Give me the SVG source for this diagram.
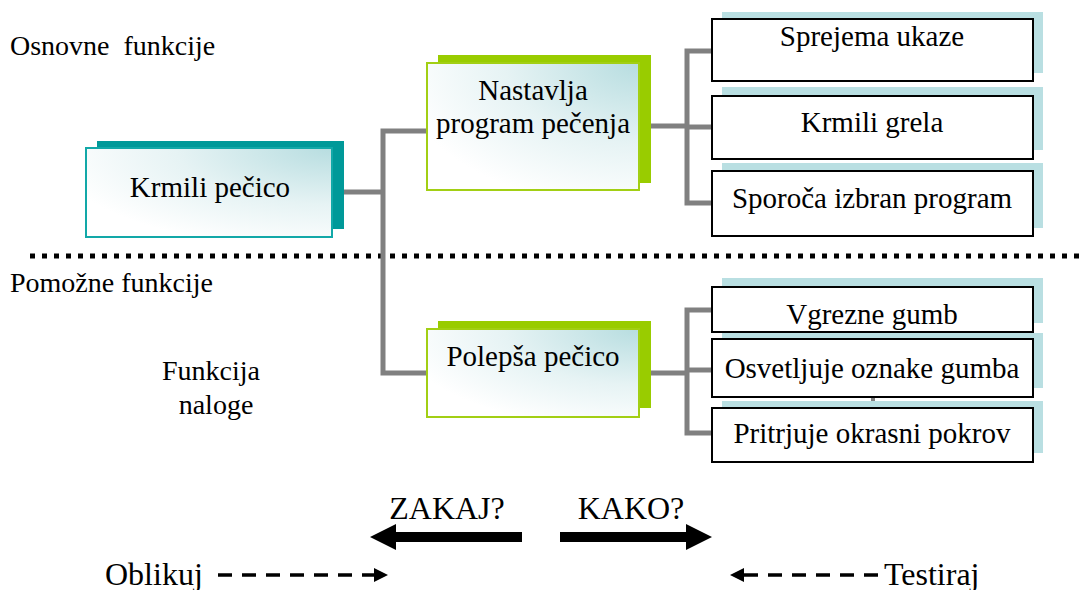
<svg xmlns="http://www.w3.org/2000/svg" width="1079" height="590" viewBox="0 0 1079 590">
  <defs>
    <radialGradient id="softFill" cx="1" cy="0" r="1.15">
      <stop offset="0" stop-color="#b7dde0"/>
      <stop offset="0.55" stop-color="#e6f3f4"/>
      <stop offset="1" stop-color="#ffffff"/>
    </radialGradient>
  </defs>
  <style>
    text { font-family: "Liberation Serif", Tinos, "Noto Serif", "DejaVu Serif", "Times New Roman", Times, serif; fill: #000; }
    .lbl { font-size: 28px; }
    .box { font-size: 29px; text-anchor: middle; }
    .big { font-size: 32px; }
    .conn { fill: none; stroke: #808080; stroke-width: 5; }
    .shadowTeal { fill: #009999; }
    .shadowGreen { fill: #99cc00; }
    .shadowBlue { fill: #b9dfe2; }
    .frontTeal { fill: url(#softFill); stroke: #12a8a8; stroke-width: 2; }
    .frontGreen { fill: url(#softFill); stroke: #a2cf14; stroke-width: 2; }
    .frontPlain { fill: #ffffff; stroke: #000; stroke-width: 2; }
    .dash { stroke: #000; stroke-width: 3.5; stroke-dasharray: 14 10; }
  </style>
  <rect width="1079" height="590" fill="#ffffff"/>

  <!-- section labels -->
  <g id="labels">
    <text class="lbl" x="10" y="55" xml:space="preserve">Osnovne  funkcije</text>
    <text class="lbl" x="10" y="292">Pomožne funkcije</text>
    <text class="lbl" x="211" y="380" text-anchor="middle">Funkcija</text>
    <text class="lbl" x="216" y="414" text-anchor="middle">naloge</text>
  </g>

  <!-- divider between main and auxiliary functions -->
  <line x1="30" y1="256" x2="1079" y2="256" stroke="#000" stroke-width="5" stroke-dasharray="5 7"/>

  <!-- connectors -->
  <g id="connectors">
    <path class="conn" d="M344 192 H383"/>
    <path class="conn" d="M427 131 H383 V373 H427"/>
    <path class="conn" d="M651 126 H687"/>
    <path class="conn" d="M712 51 H687 V203 H712"/>
    <path class="conn" d="M687 127 H712"/>
    <path class="conn" d="M651 373 H687"/>
    <path class="conn" d="M712 310 H687 V433 H712"/>
    <path class="conn" d="M687 370 H712"/>
    <rect x="871" y="396" width="4" height="5" fill="#808080"/>
  </g>

  <!-- root function -->
  <g id="krmili-pecico">
    <rect class="shadowTeal" x="97" y="141" width="247" height="88"/>
    <rect class="frontTeal" x="86" y="148" width="246" height="89"/>
    <text class="box" x="210" y="197">Krmili pečico</text>
  </g>

  <!-- main sub-function -->
  <g id="nastavlja-program">
    <rect class="shadowGreen" x="438" y="55" width="213" height="128"/>
    <rect class="frontGreen" x="427" y="63" width="212" height="127"/>
    <text class="box" x="533" y="100">Nastavlja</text>
    <text class="box" x="533" y="133">program pečenja</text>
  </g>

  <!-- auxiliary sub-function -->
  <g id="polepsa-pecico">
    <rect class="shadowGreen" x="438" y="321" width="213" height="87"/>
    <rect class="frontGreen" x="427" y="329" width="212" height="88"/>
    <text class="box" x="533" y="366">Polepša pečico</text>
  </g>

  <!-- leaf functions -->
  <g id="sprejema-ukaze">
    <rect class="shadowBlue" x="722" y="12" width="321" height="61"/>
    <rect class="frontPlain" x="712" y="19" width="321" height="62"/>
    <text class="box" x="872" y="46">Sprejema ukaze</text>
  </g>
  <g id="krmili-grela">
    <rect class="shadowBlue" x="722" y="87" width="321" height="63"/>
    <rect class="frontPlain" x="712" y="96" width="321" height="63"/>
    <text class="box" x="872" y="132">Krmili grela</text>
  </g>
  <g id="sporoca-program">
    <rect class="shadowBlue" x="722" y="163" width="321" height="65"/>
    <rect class="frontPlain" x="712" y="171" width="321" height="65"/>
    <text class="box" x="872" y="208">Sporoča izbran program</text>
  </g>
  <g id="vgrezne-gumb">
    <rect class="shadowBlue" x="722" y="278" width="321" height="45"/>
    <rect class="frontPlain" x="712" y="287" width="321" height="45"/>
    <text class="box" x="872" y="324">Vgrezne gumb</text>
  </g>
  <g id="osvetljuje-oznake">
    <rect class="shadowBlue" x="722" y="333" width="321" height="55"/>
    <rect class="frontPlain" x="712" y="339" width="321" height="58"/>
    <text class="box" x="872" y="378">Osvetljuje oznake gumba</text>
  </g>
  <g id="pritrjuje-pokrov">
    <rect class="shadowBlue" x="722" y="401" width="321" height="52"/>
    <rect class="frontPlain" x="712" y="408" width="321" height="54"/>
    <text class="box" x="872" y="443">Pritrjuje okrasni pokrov</text>
  </g>

  <!-- direction legend -->
  <g id="legend">
    <text class="big" x="447" y="519" text-anchor="middle">ZAKAJ?</text>
    <text class="big" x="631" y="519" text-anchor="middle">KAKO?</text>
    <polygon points="370,537 396,524 396,532 522,532 522,542 396,542 396,550" fill="#000"/>
    <polygon points="712,537 686,524 686,532 560,532 560,542 686,542 686,550" fill="#000"/>

    <text class="big" x="105" y="585">Oblikuj</text>
    <line class="dash" x1="218" y1="575" x2="376" y2="575"/>
    <polygon points="388,575 374,568 374,582" fill="#000"/>

    <text class="big" x="884" y="585">Testiraj</text>
    <line class="dash" x1="744" y1="575" x2="884" y2="575"/>
    <polygon points="730,575 744,568 744,582" fill="#000"/>
  </g>
</svg>
